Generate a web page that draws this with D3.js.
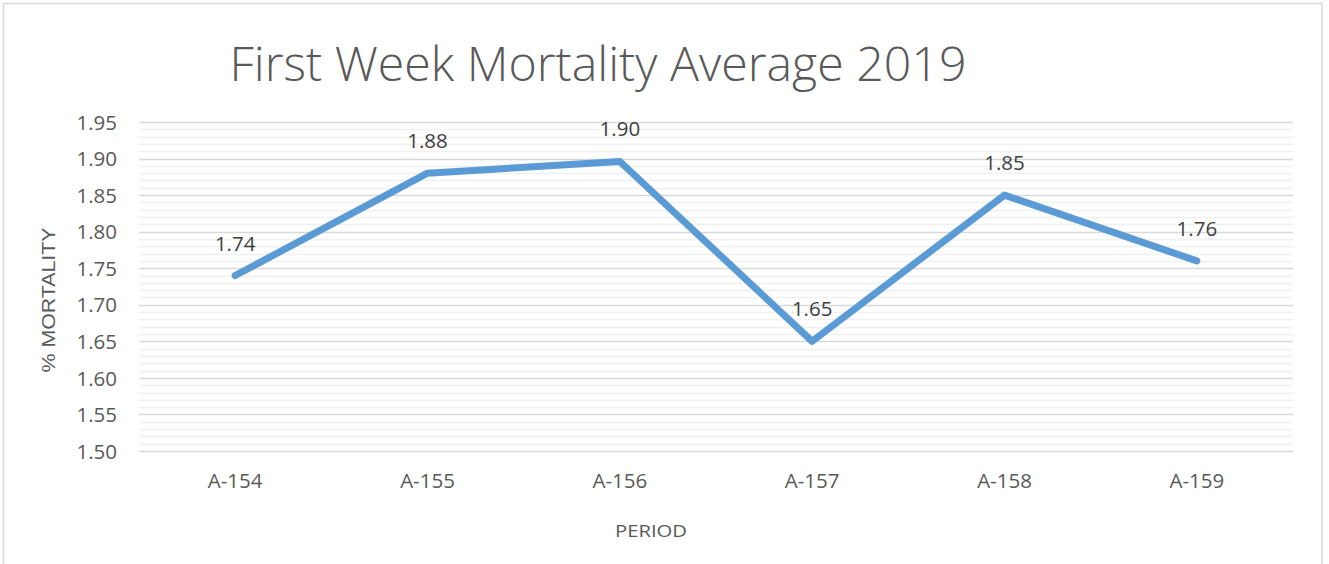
<!DOCTYPE html>
<html><head><meta charset="utf-8">
<script src="https://cdn.jsdelivr.net/npm/d3@7"></script>
<style>body{margin:0;background:#fff;} svg{display:block;}</style>
</head><body>
<script>
const categories = ["A-154","A-155","A-156","A-157","A-158","A-159"];
const values = [1.74, 1.88, 1.896, 1.65, 1.85, 1.76];
const valueLabels = ["1.74","1.88","1.90","1.65","1.85","1.76"];
const yTicks = [1.50,1.55,1.60,1.65,1.70,1.75,1.80,1.85,1.90,1.95];
const title = "First Week Mortality Average 2019";
const xTitle = "PERIOD";
const yTitle = "% MORTALITY";

const W = 1329, H = 564;
const m = {left:139, right:1293, top:122, bottom:451};
const svg = d3.select("body").append("svg").attr("width",W).attr("height",H);

svg.append("rect").attr("x",3.5).attr("y",3.5).attr("width",1318.5).attr("height",620)
  .attr("fill","#fff").attr("stroke","#D9D9D9").attr("stroke-width",1.5);

const x = d3.scaleBand().domain(categories).range([m.left,m.right]);
const y = d3.scaleLinear().domain([1.50,1.95]).range([m.bottom,m.top]);

// minor gridlines
const minor = d3.range(150,196).map(v=>v/100).filter(v=>Math.round(v*100)%5!==0);
svg.append("g").selectAll("line").data(minor).join("line")
  .attr("x1",m.left).attr("x2",m.right)
  .attr("y1",d=>Math.round(y(d))+0.5).attr("y2",d=>Math.round(y(d))+0.5)
  .attr("stroke","#F0F0F0").attr("stroke-width",1.5);
// major gridlines
svg.append("g").selectAll("line").data(yTicks).join("line")
  .attr("x1",m.left).attr("x2",m.right)
  .attr("y1",d=>Math.round(y(d))+0.5).attr("y2",d=>Math.round(y(d))+0.5)
  .attr("stroke","#D9D9D9").attr("stroke-width",1.5);

// y axis
const yAxis = svg.append("g").attr("transform",`translate(${m.left},0)`)
  .call(d3.axisLeft(y).tickValues(yTicks).tickFormat(d3.format(".2f")).tickSize(0).tickPadding(22));
yAxis.select(".domain").remove();
yAxis.selectAll("text").attr("font-family","'Open Sans', sans-serif").attr("font-size",20.5)
  .attr("fill","#595959").attr("dy","0.35em");

// x axis
const xAxis = svg.append("g").attr("transform",`translate(0,${m.bottom})`)
  .call(d3.axisBottom(x).tickSize(0).tickPadding(22));
xAxis.select(".domain").remove();
xAxis.selectAll("text").attr("font-family","'Open Sans', sans-serif").attr("font-size",20.5)
  .attr("fill","#595959");

// line
const line = d3.line().x((d,i)=>x(categories[i])+x.bandwidth()/2).y(d=>y(d));
svg.append("path").datum(values).attr("d",line).attr("fill","none")
  .attr("stroke","#5B9BD5").attr("stroke-width",7)
  .attr("stroke-linejoin","round").attr("stroke-linecap","round");

// data labels
svg.append("g").selectAll("text").data(values).join("text")
  .attr("x",(d,i)=>x(categories[i])+x.bandwidth()/2)
  .attr("y",d=>y(d)-25)
  .attr("text-anchor","middle")
  .attr("font-family","'Open Sans', sans-serif").attr("font-size",20.5).attr("fill","#404040")
  .text((d,i)=>valueLabels[i]);

// title
svg.append("text").attr("x",598).attr("y",81).attr("text-anchor","middle")
  .attr("font-family","'Open Sans', sans-serif").attr("font-weight",300).attr("font-size",47)
  .attr("fill","#595959").attr("textLength",737).attr("lengthAdjust","spacingAndGlyphs").text(title);

// x title
svg.append("text").attr("x",651).attr("y",537).attr("text-anchor","middle")
  .attr("font-family","'Open Sans', sans-serif").attr("font-size",17)
  .attr("fill","#595959").attr("textLength",72).attr("lengthAdjust","spacingAndGlyphs").text(xTitle);

// y title
svg.append("text").attr("transform","translate(55,300) rotate(-90)").attr("text-anchor","middle")
  .attr("font-family","'Liberation Sans', Arial, sans-serif").attr("font-size",19)
  .attr("fill","#595959").attr("textLength",145).attr("lengthAdjust","spacingAndGlyphs").text(yTitle);
</script>
</body></html>
